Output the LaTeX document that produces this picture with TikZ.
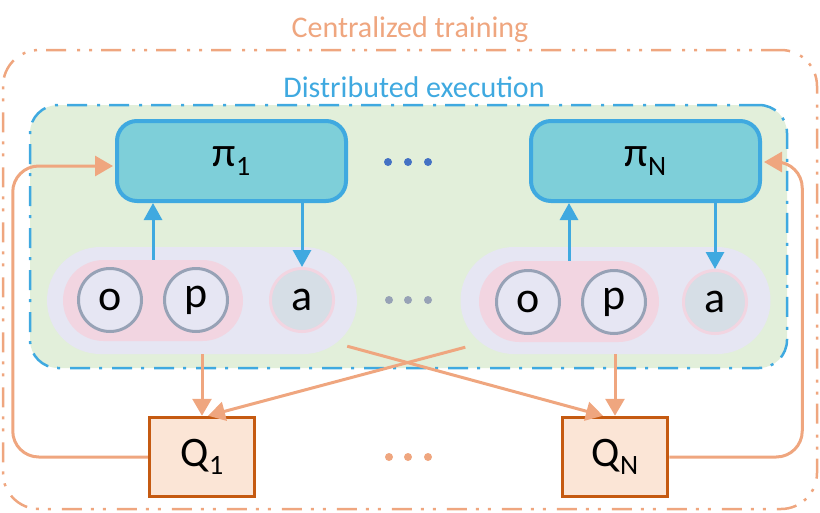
\documentclass[tikz,border=0pt]{standalone}
\usepackage{fontspec}
\setmainfont{Carlito}
\usetikzlibrary{arrows.meta,calc}
\definecolor{orl}{HTML}{EFA67F}
\definecolor{bll}{HTML}{3FA9E0}
\definecolor{grf}{HTML}{E2EFDA}
\definecolor{pif}{HTML}{7ECFD9}
\definecolor{lav}{HTML}{E6E6F3}
\definecolor{pnk}{HTML}{F2D5E1}
\definecolor{gry}{HTML}{97A2B6}
\definecolor{afl}{HTML}{D6DEE6}
\definecolor{dkb}{HTML}{4472C4}
\definecolor{qfl}{HTML}{FBE5D6}
\definecolor{qbd}{HTML}{C55A11}
\newcommand\mysub[2][-0.22em]{\raisebox{#1}{\fontsize{28}{28}\selectfont #2}}
\begin{document}
\begin{tikzpicture}[x=1pt,y=-1pt,
  outerbox/.style={draw=orl,line width=2.5pt,rounded corners=36pt,dash pattern=on 20pt off 9pt on 3pt off 9pt on 3pt off 11pt,minimum width=814pt,minimum height=459pt,inner sep=0pt},
  greenbox/.style={draw=bll,fill=grf,line width=2.5pt,rounded corners=28pt,dash pattern=on 20pt off 9pt on 3pt off 10pt,minimum width=757pt,minimum height=263pt,inner sep=0pt},
  pibox/.style={draw=bll,fill=pif,line width=4pt,rounded corners=20pt,minimum width=229pt,minimum height=80pt,inner sep=0pt,font=\fontsize{42}{42}\selectfont},
  lavpill/.style={fill=lav,rounded corners=53.5pt,minimum width=310pt,minimum height=107pt,inner sep=0pt},
  pinkpill/.style={fill=pnk,rounded corners=40.5pt,minimum width=180pt,minimum height=81pt,inner sep=0pt},
  obscirc/.style={circle,draw=gry,fill=lav,line width=3pt,minimum size=63pt,inner sep=0pt,font=\fontsize{44}{44}\selectfont},
  actcirc/.style={circle,draw=pnk,fill=afl,line width=3pt,minimum size=63pt,inner sep=0pt,font=\fontsize{44}{44}\selectfont},
  qbox/.style={draw=qbd,fill=qfl,line width=3.5pt,minimum width=105pt,minimum height=79pt,inner sep=0pt,font=\fontsize{42}{42}\selectfont},
  dotmark/.style={circle,inner sep=0pt,minimum size=8pt},
  barrow/.style={draw=bll,line width=3pt,-{Triangle[length=17pt,width=18pt]}},
  oarrow/.style={draw=orl,line width=3pt,-{Triangle[length=17pt,width=19pt]}},
  fbarrow/.style={draw=orl,line width=3pt,rounded corners=26pt,-{Triangle[length=18pt,width=20pt]}}
]
\useasboundingbox (0,0) rectangle (820,512);
\node[outerbox] (outer) at (410,279.5) {};
\node[text=orl,font=\fontsize{30}{36}\selectfont] (ctitle) at (410,30) {Centralized training};
\node[greenbox] (green) at (408.5,236.5) {};
\node[text=bll,font=\fontsize{30}{36}\selectfont] (dtitle) at (414,87) {Distributed execution};
% policies
\node[pibox] (pi1) at (231.5,161) {π\mysub{1}};
\node[pibox] (piN) at (645.5,161) {π\mysub{N}};
\foreach \x [count=\i] in {388,408,428} \node[dotmark,fill=dkb] (bd\i) at (\x,162) {};
% observation pills
\node[lavpill] (lavL) at (202,300.5) {};
\node[lavpill] (lavR) at (615.5,300.5) {};
\node[pinkpill] (pinkL) at (153,300.5) {};
\node[pinkpill] (pinkR) at (569,301.5) {};
\node[obscirc] (oL) at (110,300) {o};
\node[obscirc] (pL) at (196,300) {p};
\node[actcirc] (aL) at (302,300) {a};
\node[obscirc] (oR) at (528,302) {o};
\node[obscirc] (pR) at (614,302) {p};
\node[actcirc] (aR) at (715,302) {a};
\foreach \x [count=\i] in {389,408,428} \node[dotmark,fill=gry] (gd\i) at (\x,300) {};
% critics
\node[qbox] (q1) at (202,457) {Q\mysub[-0.18em]{1}};
\node[qbox] (qN) at (615,457) {Q\mysub[-0.18em]{N}};
\foreach \x [count=\i] in {389,408,428} \node[dotmark,fill=orl] (od\i) at (\x,457) {};
% blue arrows
\draw[barrow] (pinkL.north) -- (pinkL.north |- pi1.south);
\draw[barrow] (pi1.south -| aL.north) -- (aL.north);
\draw[barrow] (pinkR.north) -- (pinkR.north |- piN.south);
\draw[barrow] (piN.south -| aR.north) -- (aR.north);
% orange arrows
\draw[oarrow] (lavL.south -| q1.north) -- (q1.north);
\draw[oarrow] (lavR.south -| qN.north) -- (qN.north);
\coordinate (sR) at ($(lavR.south west)+(5,-7)$);
\coordinate (sL) at ($(lavL.south east)+(-10,-8)$);
\draw[oarrow] (sR) -- ($(q1.north)+(6,0)$);
\draw[oarrow] (sL) -- ($(qN.north)+(-12,0)$);
% feedback
\draw[fbarrow] (q1.west) -- ++(-135,0) |- ($(pi1.west)+(-2,5)$);
\draw[fbarrow] (qN.east) -- ++(133,0) |- ($(piN.east)+(2,1)$);
\end{tikzpicture}
\end{document}
